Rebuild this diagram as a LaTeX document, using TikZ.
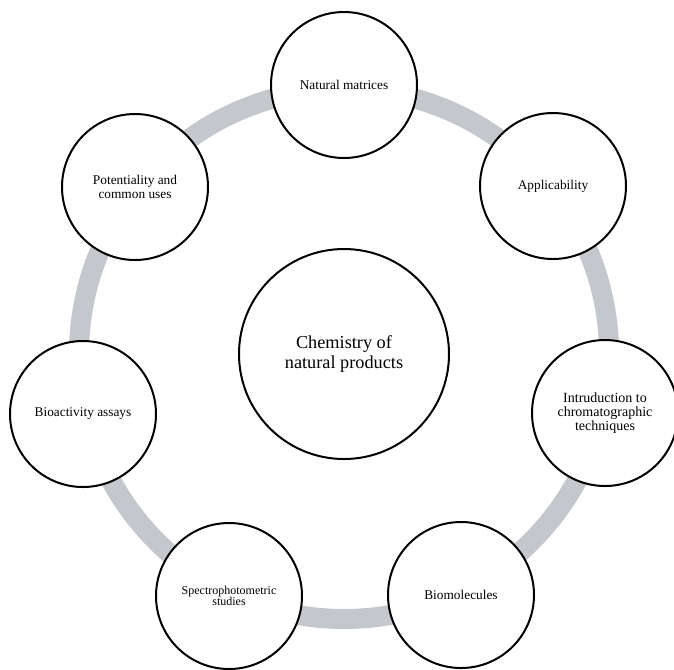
\documentclass[tikz,border=0pt]{standalone}
\usepackage{fontspec}
\setmainfont{Liberation Serif}
\definecolor{ringgray}{RGB}{196,199,203}
\begin{document}
\begin{tikzpicture}[x=0.75pt,y=-0.75pt,
  bubble/.style={circle,draw=black,line width=1.5pt,fill=white,minimum size=109.5pt,inner sep=0pt,align=center,font=\fontsize{10}{10.7}\selectfont},
  hub/.style={circle,draw=black,line width=1.5pt,fill=white,minimum size=157.5pt,inner sep=0pt,align=center,font=\fontsize{13.7}{14.3}\selectfont},
  ring/.style={draw=ringgray,line width=15pt}]
\useasboundingbox (0,0) rectangle (674,669);
\fill[white] (0,0) rectangle (674,669);
\draw[ring] (344,354) circle[radius=198.75pt];
\node[hub] (c) at (344,354) {Chemistry of\\natural products};
\node[bubble] (n1) at (344,85) {Natural matrices};
\node[bubble] (n2) at (553,186) {Applicability};
\node[bubble,font=\fontsize{10.5}{10.5}\selectfont] (n3) at (605,413) {Intruduction to\\chromatographic\\techniques};
\node[bubble] (n4) at (461,595) {Biomolecules};
\node[bubble,font=\fontsize{9}{8.8}\selectfont] (n5) at (229,596) {Spectrophotometric\\studies};
\node[bubble] (n6) at (83,414) {Bioactivity assays};
\node[bubble] (n7) at (135,187) {Potentiality and\\common uses};
\end{tikzpicture}
\end{document}
